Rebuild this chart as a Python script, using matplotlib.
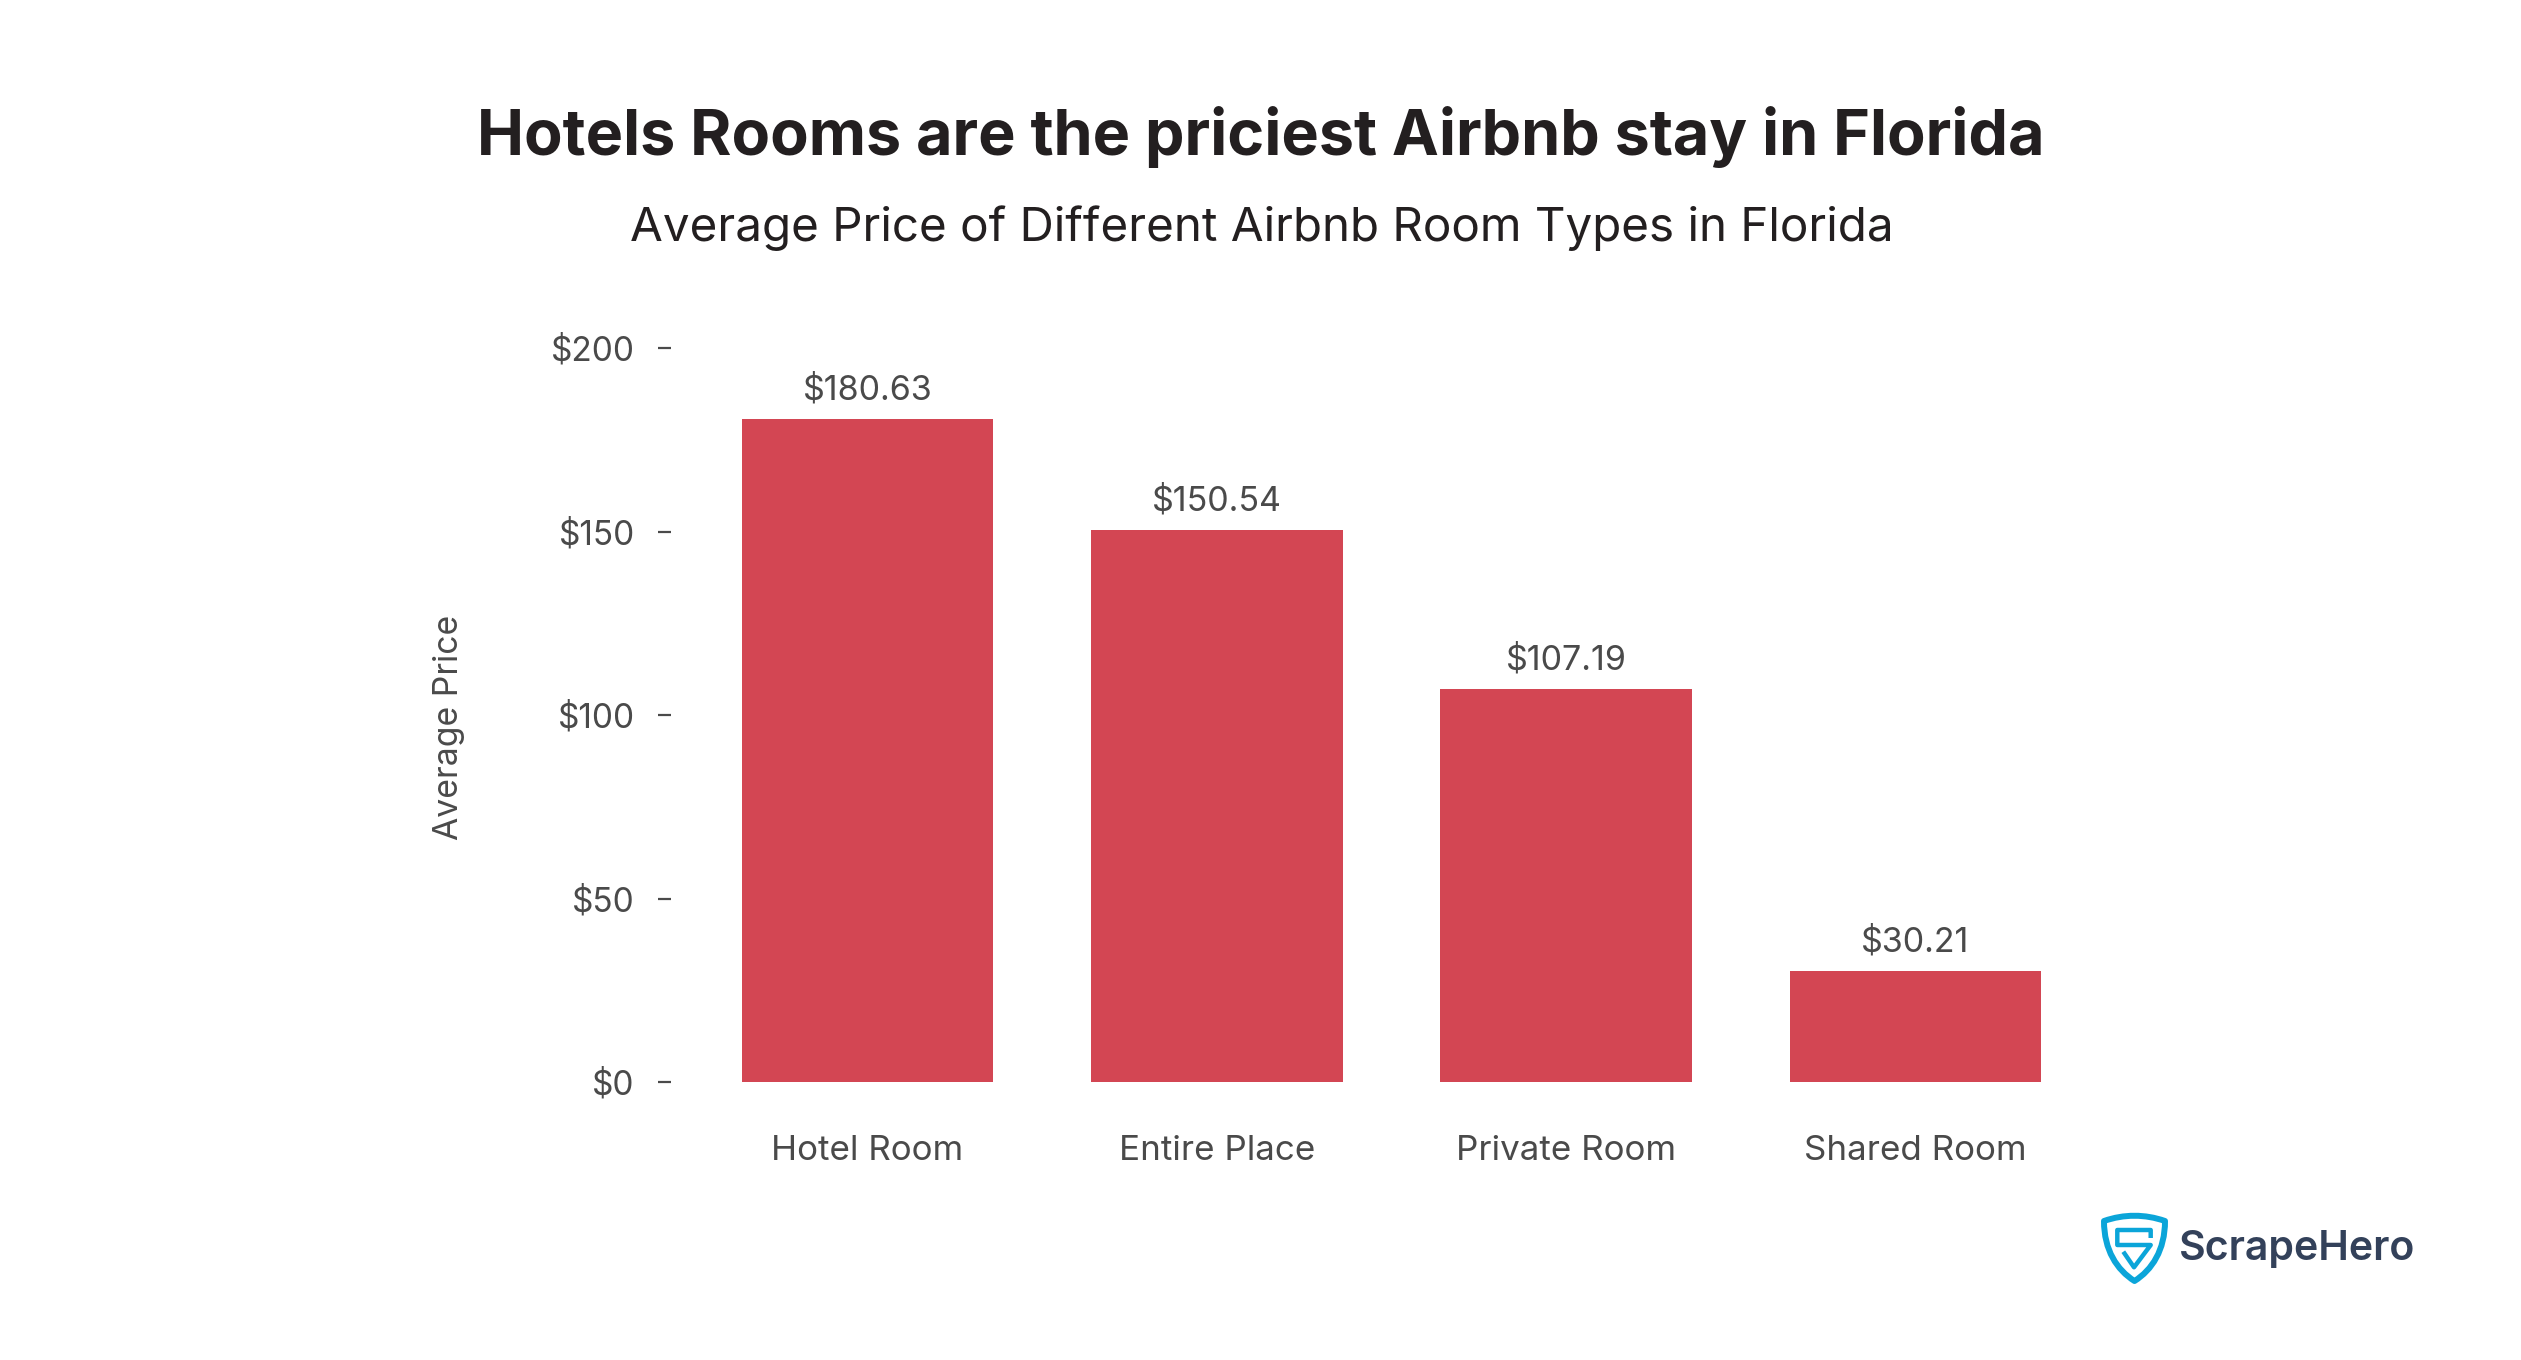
import matplotlib
matplotlib.use("Agg")
import matplotlib.pyplot as plt
from matplotlib.patches import PathPatch
from matplotlib.path import Path

plt.rcParams['font.family'] = ['Inter', 'DejaVu Sans']

room_types = ["Hotel Room", "Entire Place", "Private Room", "Shared Room"]
avg_price = [180.63, 150.54, 107.19, 30.21]
y_ticks = [0, 50, 100, 150, 200]
y_labels = ["$0", "$50", "$100", "$150", "$200"]

W, H = 2521, 1360
bar_color = "#d34653"
text_color = "#4a4a4a"

fig = plt.figure(figsize=(W / 100, H / 100), dpi=100, facecolor="white")

# axes placed by pixels
ax = fig.add_axes([670.5 / W, 1 - 1082 / H, (2090 - 670.5) / W, (1082 - 348) / H])
ax.bar(range(4), avg_price, width=0.72, color=bar_color)
ax.set_xlim(-0.564, 3.5)
ax.set_ylim(0, 200)
for s in ax.spines.values():
    s.set_visible(False)
ax.set_yticks(y_ticks, y_labels)
ax.set_xticks(range(4), room_types)
ax.tick_params(axis="y", length=9.5, width=1.6, color=text_color, labelcolor=text_color,
               labelsize=24, pad=16.2)
ax.tick_params(axis="x", length=0, labelcolor=text_color, labelsize=25.2, pad=38.5)
ax.set_ylabel("Average Price", fontsize=24.3, color=text_color)
ax.yaxis.set_label_coords((465 - 670.5) / (2090 - 670.5), 0.483)

for i, v in enumerate(avg_price):
    ax.annotate(f"${v:.2f}", (i, v), xytext=(0, 9), textcoords="offset points",
                ha="center", va="bottom", fontsize=24.5, color=text_color)

fig.text(1260.7 / W, 1 - 136.5 / H, "Hotels Rooms are the priciest Airbnb stay in Florida",
         ha="center", va="center", fontsize=45.3, fontweight="bold", color="#231f20")
fig.text(1261.5 / W, 1 - 228.5 / H, "Average Price of Different Airbnb Room Types in Florida",
         ha="center", va="center", fontsize=34.25, color="#231f20")

# logo
logo = fig.add_axes([0, 0, 1, 1], facecolor="none")
logo.set_xlim(0, W)
logo.set_ylim(H, 0)
logo.axis("off")
blue = "#0ba5d9"
shield = Path(
    [(2104, 1221), (2124, 1214), (2145, 1214), (2165, 1221),
     (2165, 1250), (2152, 1270), (2134.5, 1281),
     (2117, 1270), (2104, 1250), (2104, 1221), (2104, 1221)],
    [Path.MOVETO, Path.CURVE4, Path.CURVE4, Path.CURVE4,
     Path.CURVE4, Path.CURVE4, Path.CURVE4,
     Path.CURVE4, Path.CURVE4, Path.CURVE4, Path.CLOSEPOLY])
logo.add_patch(PathPatch(shield, fc="white", ec=blue, lw=4.3, joinstyle="round"))
s_mark = Path([(2150.7, 1238), (2150.7, 1230), (2117.3, 1230), (2117.3, 1245),
               (2150.7, 1245), (2134, 1267.3), (2123.3, 1251.7)])
logo.add_patch(PathPatch(s_mark, fc="none", ec=blue, lw=3.2, joinstyle="round"))
logo.text(2179, 1260, "ScrapeHero", ha="left", va="baseline", fontsize=29.6,
          fontweight="semibold", color="#33415a")

fig.savefig("out.png", dpi=100, facecolor="white")
